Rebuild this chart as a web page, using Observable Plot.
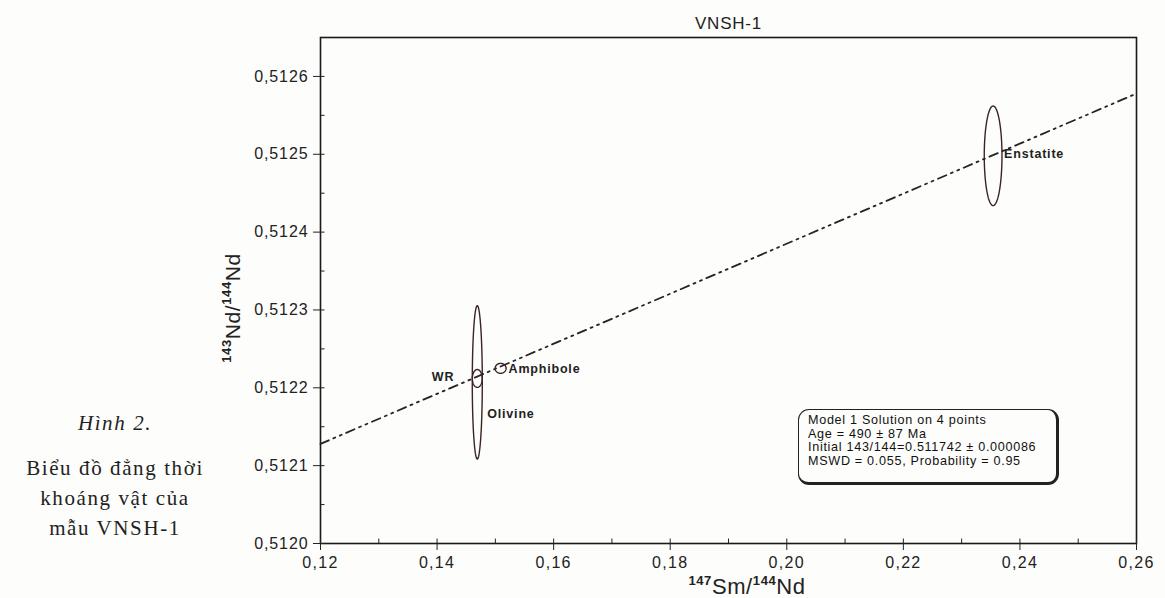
<!DOCTYPE html>
<html>
<head>
<meta charset="utf-8">
<script src="https://cdn.jsdelivr.net/npm/d3@7"></script>
<script src="https://cdn.jsdelivr.net/npm/@observablehq/plot@0.6"></script>
<style>
  html, body { margin: 0; padding: 0; background: #fdfdfb; }
  #wrap { position: relative; width: 1165px; height: 598px; }
  #caption { position: absolute; left: 0; top: 0; width: 230px; font-family: "Liberation Serif", "DejaVu Serif", serif; color: #222; text-align: center; }
  #caption div { position: absolute; left: 0; width: 230px; text-align: center; font-size: 21px; letter-spacing: 1.6px; white-space: nowrap; }
  #stats { position: absolute; left: 798px; top: 409px; width: 248px; height: 68px; border: 1.5px solid #222; border-right-width: 3px; border-bottom-width: 3px; border-radius: 11px; padding: 4px 0 0 9px; font-family: "Liberation Sans", Arial, sans-serif; font-size: 12.6px; letter-spacing: 0.7px; line-height: 13.6px; color: #111; white-space: nowrap; }
</style>
</head>
<body>
<div id="wrap">
  <div id="caption">
    <div style="top:411px;font-style:italic;">Hình 2.</div>
    <div style="top:456px;">Biểu đồ đẳng thời</div>
    <div style="top:486px;">khoáng vật của</div>
    <div style="top:516px;">mẫu VNSH-1</div>
  </div>
  <div id="stats">
    Model 1 Solution on 4 points<br>
    Age = 490 ± 87 Ma<br>
    Initial 143/144=0.511742 ± 0.000086<br>
    MSWD = 0.055, Probability = 0.95
  </div>
</div>
<script>
// ---- data ----
const minerals = ["WR", "Olivine", "Amphibole", "Enstatite"];
const smNd = [0.1469, 0.1469, 0.1509, 0.2354];          // 147Sm/144Nd
const ndNd = [0.512212, 0.512207, 0.512225, 0.512498];  // 143Nd/144Nd
const errX = [0.00085, 0.00086, 0.00094, 0.00152];      // ellipse half-widths
const errY = [0.0000115, 0.0000985, 0.0000064, 0.000064]; // ellipse half-heights
const labelText = ["WR", "Olivine", "Amphibole", "Enstatite"];

const isoX = [0.12, 0.26];          // isochron endpoints
const isoY = [0.512128, 0.512578];

const xTicks = [0.12, 0.14, 0.16, 0.18, 0.20, 0.22, 0.24, 0.26];
const xMinor = [0.13, 0.15, 0.17, 0.19, 0.21, 0.23, 0.25];
const yTicks = [0.5120, 0.5121, 0.5122, 0.5123, 0.5124, 0.5125, 0.5126];
const yMinor = [0.51205, 0.51215, 0.51225, 0.51235, 0.51245, 0.51255];

// ---- build tables ----
const ellipsePts = [];
minerals.forEach((m, i) => {
  const n = 90;
  for (let k = 0; k < n; k++) {
    const t = 2 * Math.PI * k / n;
    ellipsePts.push({ m, x: smNd[i] + errX[i] * Math.cos(t), y: ndNd[i] + errY[i] * Math.sin(t) });
  }
});
const pts = minerals.map((m, i) => ({ m, x: smNd[i], y: ndNd[i], label: labelText[i] }));
const iso = isoX.map((x, i) => ({ x, y: isoY[i] }));

const comma = (d, n) => d.toFixed(n).replace(".", ",");
const dark = "#2a2222";
const lab = { x: "x", y: "y", text: "label", fontSize: 12.5, fontWeight: "bold", fill: "#222" };

const chart = Plot.plot({
  width: 1165,
  height: 598,
  marginLeft: 320,
  marginRight: 29,
  marginTop: 37,
  marginBottom: 55,
  style: { background: "transparent", color: "#222", fontFamily: "'Liberation Sans', Arial, sans-serif" },
  x: { domain: [0.12, 0.26] },
  y: { domain: [0.5120, 0.51265] },
  marks: [
    Plot.frame({ stroke: "#1a1a1a", strokeWidth: 1.6 }),
    Plot.line(iso, { x: "x", y: "y", stroke: dark, strokeWidth: 1.8, strokeDasharray: "9,5,2,5,2,5" }),
    Plot.line(ellipsePts, { x: "x", y: "y", z: "m", curve: "linear-closed", stroke: "#3a2525", strokeWidth: 1.4 }),
    Plot.text(pts.filter(d => d.m === "WR"), { ...lab, textAnchor: "end", dx: -23, dy: -1 }),
    Plot.text(pts.filter(d => d.m === "Amphibole"), { ...lab, textAnchor: "start", dx: 8, dy: 1 }),
    Plot.text(pts.filter(d => d.m === "Olivine"), { ...lab, textAnchor: "start", dx: 10, dy: 32 }),
    Plot.text(pts.filter(d => d.m === "Enstatite"), { ...lab, textAnchor: "start", dx: 11, dy: -2 }),
    // axes
    Plot.axisX({ ticks: xTicks, tickSize: 7, tickPadding: 6, tickFormat: d => comma(d, 2), fontSize: 16, label: null }),
    Plot.axisX({ ticks: xTicks.concat(xMinor), tickSize: -4.5, tickFormat: () => "", label: null }),
    Plot.axisY({ ticks: yTicks, tickSize: 7, tickPadding: 5, tickFormat: d => comma(d, 4), fontSize: 16, label: null }),
    Plot.axisY({ ticks: yTicks.concat(yMinor), tickSize: -4.5, tickFormat: () => "", label: null }),
    Plot.text(["VNSH-1"], { frameAnchor: "top", lineAnchor: "middle", dy: -14, text: d => d, fontSize: 17, fill: "#222" })
  ]
});

const svg = d3.select(chart);
svg.selectAll('g[aria-label="x-axis tick label"] text').attr("letter-spacing", "1.3px");
svg.selectAll('g[aria-label="y-axis tick label"] text').attr("letter-spacing", "0.9px");
svg.selectAll('g[aria-label="text"] text').attr("letter-spacing", "0.8px");
// x-axis label with superscripts
const xl = svg.append("text")
  .attr("x", 747).attr("y", 594)
  .attr("text-anchor", "middle")
  .attr("font-size", 22).attr("fill", "#222").attr("letter-spacing", "0.6px")
  .attr("font-family", "'Liberation Sans', Arial, sans-serif");
xl.append("tspan").attr("font-size", 13).attr("font-weight", "bold").attr("dy", -9).text("147");
xl.append("tspan").attr("dy", 9).text("Sm/");
xl.append("tspan").attr("font-size", 13).attr("font-weight", "bold").attr("dy", -9).text("144");
xl.append("tspan").attr("dy", 9).text("Nd");
// y-axis label with superscripts
const yl = svg.append("text")
  .attr("transform", "translate(240,308) rotate(-90)")
  .attr("text-anchor", "middle")
  .attr("font-size", 21).attr("fill", "#222").attr("letter-spacing", "0.6px")
  .attr("font-family", "'Liberation Sans', Arial, sans-serif");
yl.append("tspan").attr("font-size", 13).attr("font-weight", "bold").attr("dy", -9).text("143");
yl.append("tspan").attr("dy", 9).text("Nd/");
yl.append("tspan").attr("font-size", 13).attr("font-weight", "bold").attr("dy", -9).text("144");
yl.append("tspan").attr("dy", 9).text("Nd");

chart.style.position = "absolute";
chart.style.left = "0px";
chart.style.top = "0px";
document.getElementById("wrap").prepend(chart);
</script>
</body>
</html>
